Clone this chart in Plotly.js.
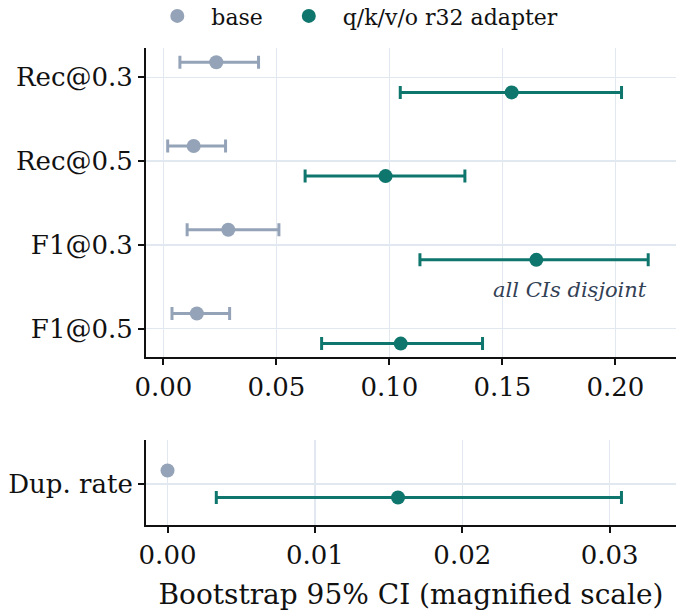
<!DOCTYPE html>
<html><head><meta charset="utf-8">
<script src="https://cdn.plot.ly/plotly-3.0.1.min.js"></script>
<style>html,body{margin:0;padding:0;background:#fff}</style>
</head><body>
<div id="chart" style="width:676px;height:611px"></div>
<script>
const categories = ["Rec@0.3", "Rec@0.5", "F1@0.3", "F1@0.5"];
const baseMean = [0.0234, 0.0134, 0.0287, 0.0148];
const baseLo   = [0.0073, 0.0019, 0.0105, 0.0038];
const baseHi   = [0.0421, 0.0275, 0.0511, 0.0293];
const adMean   = [0.1541, 0.0983, 0.1650, 0.1050];
const adLo     = [0.1048, 0.0627, 0.1135, 0.0700];
const adHi     = [0.2027, 0.1334, 0.2145, 0.1412];
const dupCategory = ["Dup. rate"];
const dupBaseMean = [0.0];
const dupBaseLo = [0.0];
const dupBaseHi = [0.0];
const dupAdMean = [0.01564];
const dupAdLo = [0.00331];
const dupAdHi = [0.0308];
const seriesNames = ["base", "q/k/v/o r32 adapter"];
const legendLabels = ["&nbsp;&nbsp;base&nbsp;&nbsp;&nbsp;", "&nbsp;&nbsp;q/k/v/o r32 adapter"];

const C_BASE = "#94a3b8", C_AD = "#0f766e";
const OFF = 0.18;
const FONT = "'DejaVu Serif', serif";

function errs(m, lo, hi) {
  return {type: "data", symmetric: false,
    array: m.map((v, i) => hi[i] - v), arrayminus: m.map((v, i) => v - lo[i])};
}
function trace(name, color, x, lo, hi, ypos, xa, ya, show) {
  const e = errs(x, lo, hi);
  Object.assign(e, {color: color, thickness: 3, width: 6.5});
  return {type: "scatter", mode: "markers", name: name, legendgroup: name, showlegend: show,
    x: x, y: ypos, xaxis: xa, yaxis: ya, error_x: e,
    marker: {color: color, size: 14}, hoverinfo: "skip"};
}
const idx = categories.map((c, i) => i);
const data = [
  trace(legendLabels[0], C_BASE, baseMean, baseLo, baseHi, idx.map(i => i - OFF), "x", "y", true),
  trace(legendLabels[1], C_AD, adMean, adLo, adHi, idx.map(i => i + OFF), "x", "y", true),
  trace(seriesNames[0], C_BASE, dupBaseMean, dupBaseLo, dupBaseHi, dupCategory.map((c, i) => i - OFF), "x2", "y2", false),
  trace(seriesNames[1], C_AD, dupAdMean, dupAdLo, dupAdHi, dupCategory.map((c, i) => i + OFF), "x2", "y2", false)
];
const W = 676, H = 611;
const axCommon = {showline: true, linecolor: "#111", linewidth: 2, ticks: "outside", ticklen: 6,
  tickwidth: 2, tickcolor: "#111", showgrid: true, gridcolor: "#e2e8f0", gridwidth: 1.5,
  zeroline: false, tickfont: {family: FONT, size: 26, color: "#111"}, automargin: false, fixedrange: true};
const layout = {
  width: W, height: H, margin: {l: 0, r: 0, t: 0, b: 0, autoexpand: false},
  paper_bgcolor: "#fff", plot_bgcolor: "#fff",
  font: {family: FONT, color: "#111"},
  showlegend: true,
  legend: {orientation: "h", x: 0.533, xanchor: "center", y: 1.008, yanchor: "top",
    font: {family: FONT, size: 22, color: "#111"}, itemwidth: 30, bgcolor: "rgba(0,0,0,0)"},
  xaxis: Object.assign({}, axCommon, {domain: [146 / W, 1], anchor: "y",
    range: [-0.0077, 0.2268], tickvals: [0, 0.05, 0.10, 0.15, 0.20], tickformat: ".2f"}),
  yaxis: Object.assign({}, axCommon, {domain: [1 - 357 / H, 1 - 48 / H], anchor: "x",
    range: [3.34, -0.35], tickvals: idx, ticktext: categories}),
  xaxis2: Object.assign({}, axCommon, {domain: [146 / W, 1], anchor: "y2",
    range: [-0.00146, 0.0345], tickvals: [0, 0.01, 0.02, 0.03], tickformat: ".2f",
    title: {text: "Bootstrap 95% CI (magnified scale)", font: {family: FONT, size: 28, color: "#111"}, standoff: 15}}),
  yaxis2: Object.assign({}, axCommon, {domain: [1 - 525 / H, 1 - 440 / H], anchor: "x2",
    range: [0.547, -0.587], tickvals: [0], ticktext: dupCategory}),
  annotations: [{x: 0.2148, y: 2.54, xref: "x", yref: "y", xanchor: "right", yanchor: "middle",
    text: "<i>all CIs disjoint</i>", showarrow: false,
    font: {family: FONT, size: 21, color: "#334155"}}]
};
Plotly.newPlot("chart", data, layout, {displayModeBar: false, staticPlot: true});
</script>
</body></html>
